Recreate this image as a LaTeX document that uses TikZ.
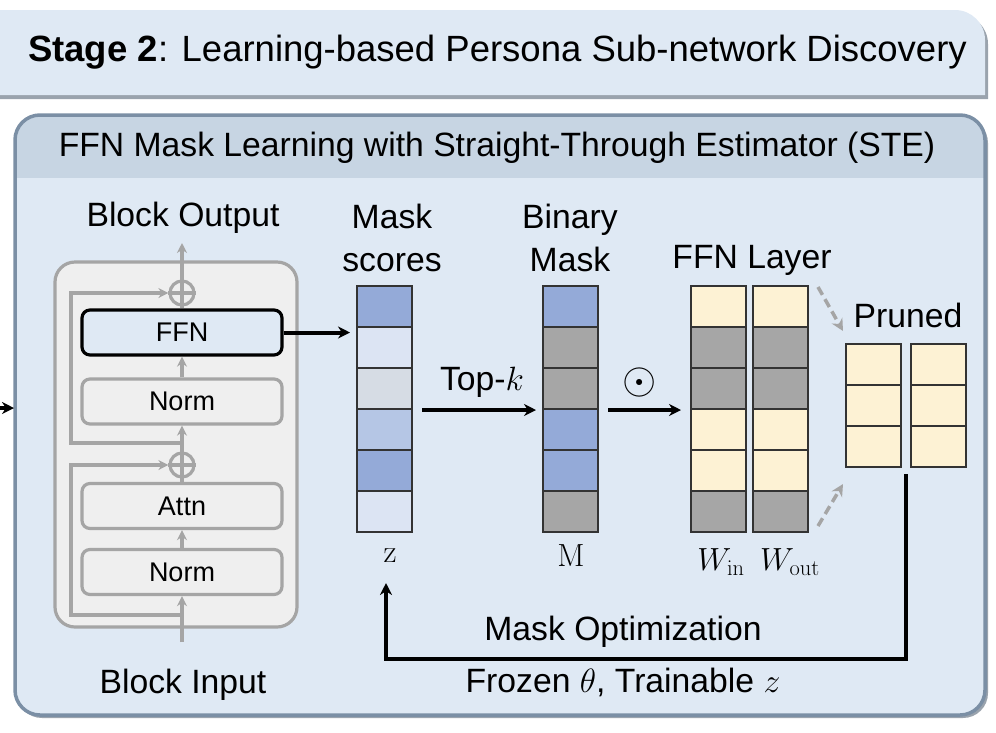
\RequirePackage{fix-cm}
\documentclass[tikz,border=0pt]{standalone}
\usepackage[no-math]{fontspec}
\setmainfont{Liberation Sans}
\usetikzlibrary{arrows.meta,calc}
\definecolor{bodyc}{HTML}{DFE9F4}
\definecolor{bandc}{HTML}{C7D5E3}
\definecolor{borderc}{HTML}{7B8FA5}
\definecolor{blkfill}{HTML}{EFEFEF}
\definecolor{blkdraw}{HTML}{A5A5A5}
\definecolor{cblue}{HTML}{94AAD8}
\definecolor{clight}{HTML}{DCE4F3}
\definecolor{cgblue}{HTML}{D6DCE4}
\definecolor{cmid}{HTML}{B5C6E5}
\definecolor{cgray}{HTML}{A6A6A6}
\definecolor{ccream}{HTML}{FDF2D4}
\definecolor{shadowc}{HTML}{9AA3AD}
\newcommand\hdf{\fontsize{36.5}{42}\selectfont}
\newcommand\bigf{\fontsize{33.7}{43}\selectfont}
\newcommand\midf{\fontsize{27}{32}\selectfont}
\newcommand\mathf{\fontsize{32}{36}\selectfont}
\tikzset{
  lbl/.style={inner sep=0pt, font=\bigf, align=center},
  blk/.style={draw=blkdraw, fill=blkfill, line width=3.2pt, rounded corners=8pt,
    minimum width=200pt, minimum height=45pt, inner sep=0pt, font=\midf},
  cell/.style={draw=black!80, line width=2pt, minimum width=55pt, minimum height=41pt, inner sep=0pt},
  plusc/.style={circle, draw=blkdraw, line width=3.2pt, minimum size=24pt, inner sep=0pt},
  garr/.style={draw=blkdraw, line width=3.2pt, -{Stealth[length=10pt,width=10pt]}},
  gline/.style={draw=blkdraw, line width=3.2pt},
  barr/.style={draw=black, line width=4pt, -{Stealth[length=12pt,width=12pt]}},
  darr/.style={draw=blkdraw, line width=3.5pt, dashed, dash pattern=on 9pt off 5pt, -{Stealth[length=12pt,width=12pt]}},
}
\begin{document}
\begin{tikzpicture}[x=1pt,y=-1pt]
\useasboundingbox (0,0) rectangle (996,732);
% header
\fill[shadowc] (-30,14) -- (958,14) arc[start angle=-90,end angle=0,radius=30] -- (988,99) -- (-30,99) -- cycle;
\fill[bodyc] (-30,10) -- (955,10) arc[start angle=-90,end angle=0,radius=30] -- (985,95) -- (-30,95) -- cycle;
\node[anchor=west, inner sep=0pt, font=\hdf] (hdr) at (28,52) {\textbf{Stage 2}: Learning-based Persona Sub-network Discovery};
% main box
\fill[shadowc, rounded corners=25pt] (17,118) rectangle (988,718);
\fill[bodyc, rounded corners=25pt] (15,115) rectangle (985,715);
\begin{scope}
\clip[rounded corners=25pt] (15,115) rectangle (985,715);
\fill[bandc] (15,115) rectangle (985,178);
\end{scope}
\draw[borderc, line width=3.5pt, rounded corners=25pt] (15,115) rectangle (985,715);
\node[lbl] (title) at (497,148) {FFN Mask Learning with Straight-Through Estimator (STE)};
% left arrow
\coordinate (lin) at (-6,408);
\coordinate (lend) at (14,408);
\draw[barr] (lin) -- (lend);
% transformer block
\draw[draw=blkdraw, fill=blkfill, line width=3.2pt, rounded corners=20pt] (55,262) rectangle (297,627);
\node[lbl] (bout) at (183,218) {Block Output};
\node[lbl] (binp) at (183,685) {Block Input};
\node[plusc] (pl1) at (182,293) {};
\node[blk, draw=black, fill=bodyc] (ffn) at (182,332.5) {FFN};
\node[blk] (norm1) at (182,401.5) {Norm};
\node[plusc] (pl2) at (182,465) {};
\node[blk] (attn) at (182,506) {Attn};
\node[blk] (norm2) at (182,572) {Norm};
\draw[gline] (pl1.west) -- (pl1.east);
\draw[gline] (pl2.west) -- (pl2.east);
\draw[gline] (pl1.north) -- (pl1.south);
\draw[gline] (pl2.north) -- (pl2.south);
\coordinate (bo) at (182,243);
\coordinate (bi) at (182,642);
\coordinate (r1) at (182,615);
\coordinate (r2) at (182,443);
\draw[garr] (bi) -- (norm2.south);
\draw[garr] (norm2.north) -- (attn.south);
\draw[gline] (attn.north) -- (pl2.south);
\draw[garr] (pl2.north) -- (norm1.south);
\draw[garr] (norm1.north) -- (ffn.south);
\draw[gline] (ffn.north) -- (pl1.south);
\draw[garr] (pl1.north) -- (bo);
\draw[garr] (r1) -- (71,615) -- (71,465) -- (pl2.west);
\draw[garr] (r2) -- (71,443) -- (71,293) -- (pl1.west);
% mask scores
\node[lbl] (mslbl) at (392,238) {Mask\\scores};
\foreach \i/\c in {1/cblue,2/clight,3/cgblue,4/cmid,5/cblue,6/clight}{
  \node[cell, fill=\c] (z\i) at (384.5,{265.5+41*\i}) {};
}
\node[inner sep=0pt, font=\mathf] (zl) at (390,556) {$\mathrm{z}$};
% binary mask
\node[lbl] (bmlbl) at (570,238) {Binary\\Mask};
\foreach \i/\c in {1/cblue,2/cgray,3/cgray,4/cblue,5/cblue,6/cgray}{
  \node[cell, fill=\c] (m\i) at (570.5,{265.5+41*\i}) {};
}
\node[inner sep=0pt, font=\mathf] (ml) at (571,556) {$\mathrm{M}$};
% FFN layer
\node[lbl] (ffnlbl) at (752,260) {FFN Layer};
\foreach \i/\c in {1/ccream,2/cgray,3/cgray,4/ccream,5/ccream,6/cgray}{
  \node[cell, fill=\c] (wi\i) at (718.5,{265.5+41*\i}) {};
  \node[cell, fill=\c] (wo\i) at (780.5,{265.5+41*\i}) {};
}
\node[inner sep=0pt, font=\mathf] (wil) at (721,562) {$W_{\mathrm{in}}$};
\node[inner sep=0pt, font=\mathf] (wol) at (790,562) {$W_{\mathrm{out}}$};
% pruned
\node[lbl] (prlbl) at (908,315) {Pruned};
\foreach \i in {1,2,3}{
  \node[cell, fill=ccream] (pa\i) at (873.5,{323.5+41*\i}) {};
  \node[cell, fill=ccream] (pb\i) at (938.5,{323.5+41*\i}) {};
}
% arrows
\draw[barr, shorten >=6pt] (ffn.east) -- (ffn.east -| z2.west);
\draw[barr, shorten <=9pt, shorten >=6pt] (z3.south east) -- (m3.south west);
\node[lbl] (topk) at (482,382) {Top-$k$};
\draw[barr, shorten <=9pt, shorten >=9pt] (m3.south east) -- (wi3.south west);
\node[inner sep=0pt, font=\fontsize{44}{48}\selectfont] (odot) at (640,382) {$\odot$};
\draw[darr] ([shift={(9,2)}]wo1.north east) -- ([shift={(-2,-12)}]pa1.north west);
\draw[darr] ([shift={(9,-7)}]wo6.south east) -- ([shift={(-2,16)}]pa3.south west);
% loop
\coordinate (ls) at ($(pa3.south east)!0.5!(pb3.south west)+(0,6)$);
\coordinate (le) at (386,583);
\draw[draw=black, line width=4pt, -{Stealth[length=12pt,width=12pt]}] (ls) -- (ls |- 0,659) -| (le);
\node[lbl] (mopt) at (623,632) {Mask Optimization};
\node[lbl] (frz) at (623,682) {Frozen $\theta$, Trainable $z$};
\end{tikzpicture}
\end{document}
